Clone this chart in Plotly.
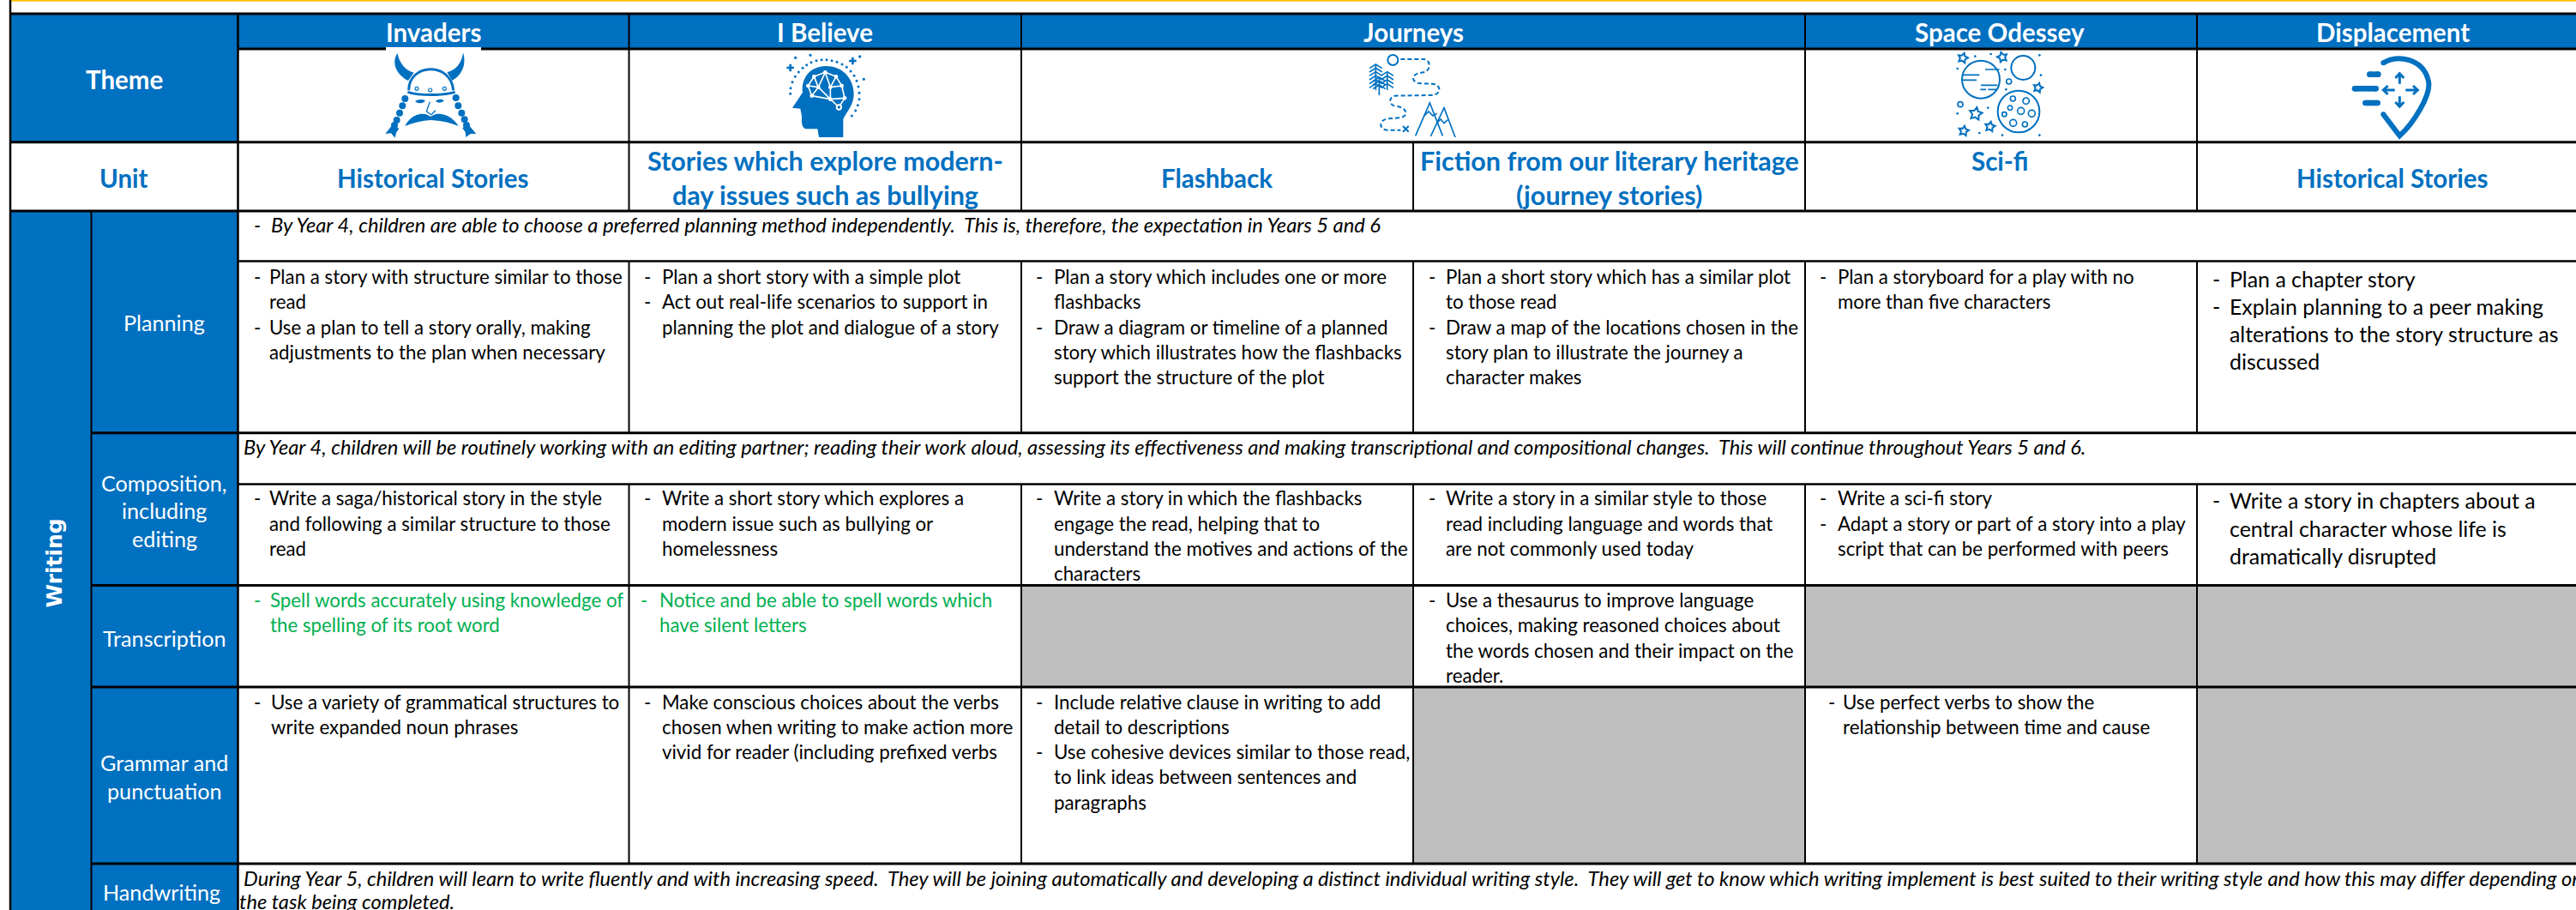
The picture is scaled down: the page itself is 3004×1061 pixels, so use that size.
import math, re
import plotly.graph_objects as go

# ------------------------------------------------------------------ content
THEMES = ["Invaders", "I Believe", "Journeys", "Space Odessey", "Displacement"]
ROW_LABELS = ["Theme", "Unit"]
UNITS = [
    ["Historical Stories"],
    ["Stories which explore modern-", "day issues such as bullying"],
    ["Flashback"],
    ["Fiction from our literary heritage", "(journey stories)"],
    ["Sci-fi"],
    ["Historical Stories"],
]
AREA = "Writing"
STRANDS = [["Planning"], ["Composition,", "including", "editing"], ["Transcription"],
           ["Grammar and", "punctuation"], ["Handwriting"]]
NOTE_PLANNING = "By Year 4, children are able to choose a preferred planning method independently.  This is, therefore, the expectation in Years 5 and 6"
NOTE_COMPOSITION = "By Year 4, children will be routinely working with an editing partner; reading their work aloud, assessing its effectiveness and making transcriptional and compositional changes.  This will continue throughout Years 5 and 6."
NOTE_HANDWRITING = [
    "During Year 5, children will learn to write fluently and with increasing speed.  They will be joining automatically and developing a distinct individual writing style.  They will get to know which writing implement is best suited to their writing style and how this may differ depending on",
    "the task being completed.",
]
# "- " opens a bullet, other lines continue it
PLANNING = [
    ["- Plan a story with structure similar to those", "read", "- Use a plan to tell a story orally, making", "adjustments to the plan when necessary"],
    ["- Plan a short story with a simple plot", "- Act out real-life scenarios to support in", "planning the plot and dialogue of a story"],
    ["- Plan a story which includes one or more", "flashbacks", "- Draw a diagram or timeline of a planned", "story which illustrates how the flashbacks", "support the structure of the plot"],
    ["- Plan a short story which has a similar plot", "to those read", "- Draw a map of the locations chosen in the", "story plan to illustrate the journey a", "character makes"],
    ["- Plan a storyboard for a play with no", "more than five characters"],
    ["- Plan a chapter story", "- Explain planning to a peer making", "alterations to the story structure as", "discussed"],
]
COMPOSITION = [
    ["- Write a saga/historical story in the style", "and following a similar structure to those", "read"],
    ["- Write a short story which explores a", "modern issue such as bullying or", "homelessness"],
    ["- Write a story in which the flashbacks", "engage the read, helping that to", "understand the motives and actions of the", "characters"],
    ["- Write a story in a similar style to those", "read including language and words that", "are not commonly used today"],
    ["- Write a sci-fi story", "- Adapt a story or part of a story into a play", "script that can be performed with peers"],
    ["- Write a story in chapters about a", "central character whose life is", "dramatically disrupted"],
]
TRANSCRIPTION = [
    ["- Spell words accurately using knowledge of", "the spelling of its root word"],
    ["- Notice and be able to spell words which", "have silent letters"],
    None,
    ["- Use a thesaurus to improve language", "choices, making reasoned choices about", "the words chosen and their impact on the", "reader."],
    None,
    None,
]
GRAMMAR = [
    ["- Use a variety of grammatical structures to", "write expanded noun phrases"],
    ["- Make conscious choices about the verbs", "chosen when writing to make action more", "vivid for reader (including prefixed verbs"],
    ["- Include relative clause in writing to add", "detail to descriptions", "- Use cohesive devices similar to those read,", "to link ideas between sentences and", "paragraphs"],
    None,
    ["- Use perfect verbs to show the", "relationship between time and cause"],
    None,
]

# ------------------------------------------------------------------ layout
W, H = 3004, 1061
BLUE, GREY, GREEN, GOLD = "#0070C0", "#BFBFBF", "#00B050", "#FFC000"
FONT = "Lato"
XL, XA, XS = 12, 106.5, 277.5            # left edge, area/strand, strand/body
XC = [277.5, 733.5, 1191, 1648, 2105, 2562, 3020]
Y_TOP, Y_HEAD, Y_THEME, Y_UNIT, Y_PN, Y_P, Y_CN, Y_C, Y_T, Y_G = 16, 57, 165.7, 246, 304.6, 504.7, 564.5, 682.5, 801, 1007
BODY = 22.3
BIG = 24.9
NOTE = 23.7
HEAD = 29.5
UNIT_SIZE = [29.5, 30.5, 29.5, 30.5, 29.5, 29.5]
SIDE = 25.2

shapes, notes = [], []

def rect(x0, y0, x1, y1, c):
    shapes.append(dict(type="rect", x0=x0, y0=y0, x1=x1, y1=y1, fillcolor=c, line=dict(width=0), layer="below"))

def hline(y, x0, x1, w=3, c="black"):
    shapes.append(dict(type="line", x0=x0, x1=x1, y0=y, y1=y, line=dict(color=c, width=w), layer="below"))

def vline(x, y0, y1, w=2, c="black"):
    shapes.append(dict(type="line", x0=x, x1=x, y0=y0, y1=y1, line=dict(color=c, width=w), layer="below"))

def text(x, y, s, size=BODY, color="black", anchor="left", bold=False, italic=False, angle=0, family=FONT):
    if bold: s = f"<b>{s}</b>"
    if italic: s = f"<i>{s}</i>"
    notes.append(dict(x=x, y=y, text=s, showarrow=False, xanchor=anchor, yanchor="middle",
                      font=dict(family=family, size=size, color=color), textangle=angle, borderpad=0, borderwidth=0))

# fills
rect(XL, Y_TOP, XS, Y_THEME, BLUE)
rect(XL, Y_UNIT, XS, H, BLUE)
rect(XS, Y_TOP, W, Y_HEAD, BLUE)
for (a, b, y0, y1) in [(XC[2], XC[3], Y_C, Y_T), (XC[4], XC[6], Y_C, Y_T), (XC[3], XC[4], Y_T, Y_G), (XC[5], XC[6], Y_T, Y_G)]:
    rect(a, y0, b, y1, GREY)

# rules
hline(0.8, XL, W, 2, GOLD)
vline(XL, 0, H, 2.5)
hline(Y_TOP, XL, W, 3)
hline(Y_HEAD, XS, W, 3)
hline(Y_THEME, XL, W, 3)
hline(Y_UNIT, XL, W, 3)
hline(Y_PN, XS, W, 2.5)
hline(Y_P, XA, W, 3)
hline(Y_CN, XS, W, 2.5)
hline(Y_C, XA, W, 3)
hline(Y_T, XA, W, 3)
hline(Y_G, XA, W, 3)
vline(XS, Y_TOP, H, 2.5)
vline(XA, Y_UNIT, H, 2)
for x in [XC[1], XC[2], XC[4], XC[5]]:
    vline(x, Y_TOP, Y_UNIT)
vline(XC[3], Y_THEME, Y_UNIT)
for y0, y1 in [(Y_PN, Y_P), (Y_CN, Y_T), (Y_T, Y_G)]:
    for x in XC[1:6]:
        vline(x, y0, y1)

# headers
HEAD_X = [505, 962, 1648, 2332, 2790]
for x, s in zip(HEAD_X, THEMES):
    text(x, 37, s, HEAD, "white", "center", bold=True)
text(144.5, 92, ROW_LABELS[0], HEAD, "white", "center", bold=True)
text(144.5, 207, ROW_LABELS[1], HEAD, BLUE, "center", bold=True)
UNIT_X = [505, 962, 1419, 1876.5, 2332, 2790]
UNIT_Y = [[207], [187, 226.5], [207], [187, 226.5], [187], [207]]
for x, ys, lines, sz in zip(UNIT_X, UNIT_Y, UNITS, UNIT_SIZE):
    for y, s in zip(ys, lines):
        text(x, y, s, sz, BLUE, "center", bold=True)

# side labels
text(62.5, 657, AREA, 25, "white", "center", bold=True, angle=-90, family="DejaVu Sans")
STRAND_X = [191.5, 191.5, 191.5, 191.5, 188]
STRAND_Y = [[376], [563, 595, 628], [743.6], [889, 922], [1039.5]]
for x, ys, lines in zip(STRAND_X, STRAND_Y, STRANDS):
    for y, s in zip(ys, lines):
        text(x, y, s, SIDE, "white", "center")

# spanning notes
text(296, 262, "-", NOTE, italic=True)
text(315.7, 262, NOTE_PLANNING, NOTE, italic=True)
text(284, 520.6, NOTE_COMPOSITION, NOTE, italic=True)
text(284, 1024, NOTE_HANDWRITING[0], NOTE, italic=True)
text(279, 1051, NOTE_HANDWRITING[1], NOTE, italic=True)

# body cells
DASH_X = [296, 751, 1208, 1666, 2122, 2580]
TEXT_X = [314, 772, 1229, 1686, 2143, 2600]
PITCH_PLAN = [322, 351, 381, 410, 439]
PITCH_BIG_P = [324.5, 356.6, 388.8, 421]
PITCH_COMP = [580.7, 610.5, 639.9, 668.6]
PITCH_BIG_C = [583, 615.5, 648]
PITCH_TRANS = [699.7, 728.4, 758.5, 787.6]
PITCH_GRAM = [818.4, 847.8, 876.5, 905.3, 935.3]

def cell(lines, ys, dx, tx, size=BODY, color="black"):
    if not lines:
        return
    for y, s in zip(ys, lines):
        if s.startswith("- "):
            text(dx, y, "-", size, color)
            s = s[2:]
        text(tx, y, s, size, color)

for i, c in enumerate(PLANNING):
    big = i == 5
    cell(c, PITCH_BIG_P if big else PITCH_PLAN, DASH_X[i], TEXT_X[i], BIG if big else BODY)
for i, c in enumerate(COMPOSITION):
    big = i == 5
    cell(c, PITCH_BIG_C if big else PITCH_COMP, DASH_X[i], TEXT_X[i], BIG if big else BODY)
for i, c in enumerate(TRANSCRIPTION):
    green = i < 2
    dx = [296, 747, 0, 1666, 0, 0][i]
    tx = [315, 768.5, 0, 1686, 0, 0][i]
    cell(c, PITCH_TRANS, dx, tx, BODY, GREEN if green else "black")
for i, c in enumerate(GRAMMAR):
    dx = [296, 751, 1208, 0, 2131.5, 0][i]
    tx = [316, 772, 1229, 0, 2149, 0][i]
    cell(c, PITCH_GRAM, dx, tx)

# ------------------------------------------------------------------ icons (decoration)
def xf(d, ox, oy, k=1 / 3):
    out, n = [], 0
    for t in re.findall(r"[A-Za-z]|-?\d+\.?\d*", d):
        if t.isalpha():
            out.append(t)
        else:
            v = float(t)
            out.append(f"{(ox if n % 2 == 0 else oy) + v * k:.2f}")
            n += 1
    return " ".join(out)

class Icon:
    def __init__(self, ox, oy, colour=BLUE):
        self.ox, self.oy, self.c = ox, oy, colour
    def fill(self, d, c=None):
        c = c or self.c
        shapes.append(dict(type="path", path=xf(d, self.ox, self.oy), fillcolor=c, line=dict(width=0), layer="above"))
    def stroke(self, d, w, c=None, dash=None):
        c = c or self.c
        ln = dict(color=c, width=w / 3)
        if dash: ln["dash"] = dash
        shapes.append(dict(type="path", path=xf(d, self.ox, self.oy), fillcolor="rgba(0,0,0,0)", line=ln, layer="above"))
    def dot(self, x, y, r, c=None):
        c = c or self.c
        X, Y = self.ox + x / 3, self.oy + y / 3
        shapes.append(dict(type="circle", x0=X - r / 3, x1=X + r / 3, y0=Y - r / 3, y1=Y + r / 3, fillcolor=c, line=dict(width=0), layer="above"))
    def ring(self, x, y, r, w):
        X, Y = self.ox + x / 3, self.oy + y / 3
        shapes.append(dict(type="circle", x0=X - r / 3, x1=X + r / 3, y0=Y - r / 3, y1=Y + r / 3, fillcolor="rgba(0,0,0,0)", line=dict(color=self.c, width=w / 3), layer="above"))
    def cap(self, x0, y0, x1, y1, w):
        self.stroke(f"M {x0} {y0} L {x1} {y1}", w)
        self.dot(x0, y0, w / 2)
        self.dot(x1, y1, w / 2)
    def star(self, x, y, r, w, rot=0):
        pts = []
        for k in range(10):
            a = math.radians(-90 + rot + k * 36)
            rr = r if k % 2 == 0 else r * 0.52
            pts.append(f"{x + rr * math.cos(a):.1f} {y + rr * math.sin(a):.1f}")
        self.stroke("M " + " L ".join(pts) + " Z", w)

# Viking
v = Icon(440, 50)
shapes.append(dict(type="rect", x0=450, x1=561, y0=55, y1=59, fillcolor="white", line=dict(width=0), layer="above"))
v.fill("M 70 36 C 48 72 68 112 108 132 L 128 104 C 98 96 78 72 70 36 Z")
v.fill("M 300 34 C 314 80 292 116 262 132 L 244 103 C 276 95 296 70 300 34 Z")
v.stroke("M 110 166 C 110 120 146 92 186 92 C 228 92 262 120 266 166", 9)
v.stroke("M 106 172 C 150 185 225 185 272 172", 9)
for x, y in [(138, 160), (185, 165), (235, 160)]:
    v.ring(x, y, 6, 3.5)
for x, y in [(97, 195), (88, 220), (78, 245), (68, 270), (60, 288)]:
    v.dot(x, y, 12)
for x, y in [(275, 192), (283, 220), (295, 245), (305, 268), (312, 288)]:
    v.dot(x, y, 12)
v.fill("M 54 285 L 28 318 L 48 316 L 62 332 L 66 314 L 76 300 Z")
v.fill("M 318 285 L 346 318 L 326 318 L 310 330 L 308 312 L 298 298 Z")
v.fill("M 132 205 C 142 196 162 196 168 203 C 160 212 142 214 132 205 Z")
v.fill("M 204 204 C 212 195 226 195 234 202 C 226 210 212 212 204 204 Z")
v.fill("M 97 291 C 118 250 160 238 186 258 C 212 238 258 250 284 291 C 250 276 214 272 186 270 C 158 272 126 278 97 291 Z")
v.stroke("M 184 206 L 172 240 L 190 252 M 190 250 L 204 236", 4)

# Head with brain
h = Icon(900, 55)
h.fill("M 72 212 L 108 158 C 102 108 135 66 190 66 C 250 66 287 112 287 165 C 287 205 258 230 250 252 L 250 315 L 165 315 L 160 286 L 125 286 C 105 286 104 268 105 242 L 100 215 Z")
links = [(148, 103, 187, 88), (187, 88, 225, 103), (225, 103, 245, 135), (245, 135, 255, 178), (255, 178, 235, 210),
         (235, 210, 205, 182), (205, 182, 140, 170), (140, 170, 127, 135), (127, 135, 148, 103), (163, 140, 127, 135),
         (163, 140, 187, 88), (205, 140, 187, 88), (205, 140, 245, 135), (205, 140, 205, 182), (205, 182, 255, 178),
         (163, 140, 205, 182), (163, 140, 140, 170), (205, 140, 225, 103), (163, 140, 148, 103)]
for a, b, c_, d_ in links:
    h.stroke(f"M {a} {b} L {c_} {d_}", 5, "white")
for x, y in [(148, 103), (187, 88), (225, 103), (245, 135), (255, 178), (205, 182), (140, 170), (127, 135), (163, 140), (205, 140)]:
    h.dot(x, y, 7, "white")
h.dot(235, 210, 11, "white")
h.dot(235, 210, 5)
for x, y in [(65, 163), (66, 143), (72, 122), (82, 103), (94, 87), (108, 73), (122, 62), (138, 53), (156, 47), (174, 44), (192, 44), (210, 47), (228, 52), (246, 60), (262, 70), (276, 84), (288, 100), (297, 118), (303, 138), (306, 160), (306, 182), (301, 203), (293, 222), (280, 240)]:
    h.dot(x, y, 4.5)
for x, y in [(83, 37), (135, 28), (308, 33), (322, 112)]:
    h.dot(x, y, 5)
h.stroke("M 52 72 L 78 72 M 65 59 L 65 85 M 270 48 L 296 48 M 283 35 L 283 61", 8)

# Map
m = Icon(1585, 55)
m.ring(118, 45, 18, 6)
m.stroke("M 145 42 L 225 42 C 252 42 252 85 225 88 L 205 92 C 180 100 185 125 215 127 L 255 128 C 287 130 290 165 255 168 L 125 170 C 100 175 105 205 130 207 C 170 210 175 245 140 247 L 100 250 C 65 255 70 290 100 290 L 145 290", 6, dash="5px,3px")
m.stroke("M 153 276 L 173 296 M 173 276 L 153 296", 6)
for cx, levels, end in [(58, [60, 73, 86, 100, 114, 128], 150), (70, [105, 118, 132], 168), (98, [86, 100, 114, 128], 150)]:
    m.stroke(f"M {cx} {levels[0]} L {cx} {end}", 5)
    for y in levels:
        m.stroke(f"M {cx - 22} {y + 14} L {cx} {y} L {cx + 22} {y + 14}", 5)
m.stroke("M 197 310 L 247 195 L 292 310 M 250 312 L 297 212 L 336 315", 5)
m.stroke("M 228 240 L 243 225 L 258 240 L 272 232 M 275 262 L 285 252 L 297 266 L 310 254", 5)

# Planets
p = Icon(2270, 55)
p.ring(120, 113, 66, 6)
p.ring(268, 72, 42, 6)
p.ring(252, 225, 73, 6)
p.stroke("M 135 78 L 185 78 M 55 97 L 115 97 M 55 115 L 105 115 M 120 133 L 178 133 M 118 148 L 138 148 M 145 148 L 175 148", 5)
for x, y, r in [(232, 180, 9), (278, 188, 11), (222, 212, 8), (260, 223, 12), (298, 232, 12), (202, 235, 8), (233, 265, 12), (274, 270, 9), (218, 120, 9), (48, 200, 9)]:
    p.ring(x, y, r, 5)
for x, y, r, rot in [(57, 38, 18, 15), (195, 35, 18, -15), (320, 142, 17, 15), (102, 233, 23, 10), (152, 278, 18, 10), (60, 293, 18, 10)]:
    p.star(x, y, r, w=6, rot=rot)
for x, y in [(100, 32), (155, 24), (38, 75), (205, 78), (208, 148), (325, 28), (330, 98), (145, 212), (115, 300), (195, 308), (325, 308), (38, 232)]:
    p.dot(x, y, 4)

# Displacement pin
d = Icon(2730, 55)
d.stroke("M 148 55 C 200 25 285 40 305 115 C 320 165 250 270 205 310 L 148 235", 18)
d.dot(148, 55, 9); d.dot(148, 235, 9)
d.cap(100, 95, 130, 95, 20)
d.cap(48, 145, 122, 145, 20)
d.cap(85, 195, 128, 195, 20)
d.stroke("M 205 128 L 205 92 M 190 108 L 205 92 L 220 108", 9)
d.stroke("M 205 172 L 205 208 M 190 192 L 205 208 L 220 192", 9)
d.stroke("M 188 150 L 148 150 M 164 135 L 148 150 L 164 165", 9)
d.stroke("M 226 150 L 268 150 M 252 135 L 268 150 L 252 165", 9)

# ------------------------------------------------------------------ figure
fig = go.Figure(go.Scatter(x=[0, W], y=[0, H], mode="none", hoverinfo="skip", showlegend=False))
fig.update_layout(
    width=W, height=H, autosize=False, margin=dict(l=0, r=0, t=0, b=0, pad=0),
    paper_bgcolor="white", plot_bgcolor="white", showlegend=False,
    xaxis=dict(range=[0, W], visible=False, fixedrange=True),
    yaxis=dict(range=[H, 0], visible=False, fixedrange=True),
    shapes=shapes, annotations=notes,
)
fig.write_html("out.html", config=dict(displayModeBar=False),
               post_script="document.body.style.margin='0';document.body.style.overflow='hidden';")
